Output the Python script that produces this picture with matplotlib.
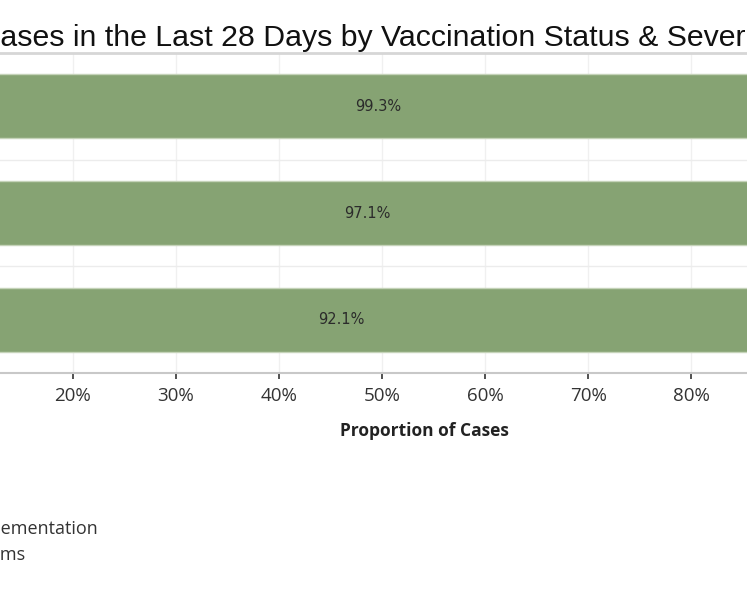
import matplotlib
matplotlib.use('Agg')
import matplotlib.pyplot as plt
import numpy as np

# data
severity = ['All cases', 'Hospitalised', 'Died']
vacc_pct = [99.3, 97.1, 92.1]
xticks = [0, 10, 20, 30, 40, 50, 60, 70, 80, 90, 100]
legend_items = ['Pre-booster implementation', 'Symptoms']

title_prefix = 'COVID-19 C'
title = 'COVID-19 Cases in the Last 28 Days by Vaccination Status & Severity'

W, H = 747, 598
fig = plt.figure(figsize=(W / 100, H / 100), dpi=100)
fig.patch.set_facecolor('white')

# axes run past the figure edges (the reference is a crop)
x0, x1 = -133.6, 897.4
y_top, y_bot = 53, 373
ax = fig.add_axes([x0 / W, 1 - y_bot / H, (x1 - x0) / W, (y_bot - y_top) / H])

ypos = np.arange(len(severity))
ax.barh(ypos, vacc_pct, height=0.6, color='#86a373', edgecolor='#c5d3b9',
        linewidth=1.0, zorder=2)
for y, v in zip(ypos, vacc_pct):
    ax.text(v / 2, y, '%.1f%%' % v, ha='center', va='center', fontsize=10.5,
            color='#2b2b2b', family='DejaVu Sans', zorder=3)

ax.set_xlim(0, 100)
ax.set_ylim(len(severity) - 0.5, -0.5)
ax.set_xticks(xticks)
ax.set_xticklabels(['%d%%' % t for t in xticks], fontsize=13.5, color='#333333',
                   family='Open Sans')
ax.set_yticks(ypos)
ax.set_yticklabels(severity)
ax.tick_params(axis='x', length=4, width=1.2, color='#333333', pad=6)
ax.tick_params(axis='y', length=0)

# light grid
for t in xticks:
    ax.axvline(t, color='#f0f0f0', lw=1, zorder=0)
for b in ypos[:-1] + 0.5:
    ax.axhline(b, color='#ececec', lw=1, zorder=0)

for s in ['left', 'right']:
    ax.spines[s].set_visible(False)
ax.spines['top'].set_color('#d6d6d6')
ax.spines['top'].set_linewidth(2)
ax.spines['bottom'].set_color('#c8c8c8')
ax.spines['bottom'].set_linewidth(1.5)

ax.set_xlabel('Proportion of Cases', fontsize=12.5, fontweight='bold',
              color='#222222', family='Open Sans')
ax.xaxis.set_label_coords((424 - x0) / (x1 - x0), -(436 - y_bot) / (y_bot - y_top))
ax.xaxis.label.set_va('baseline')

# title, cut off at both sides like the reference
tsize = 21.8
fig.canvas.draw()
r = fig.canvas.get_renderer()
tmp = fig.text(0, 0, title_prefix, fontsize=tsize, family='Liberation Sans')
w = tmp.get_window_extent(r).width
tmp.remove()
fig.text(-w / W, 1 - 45.7 / H, title, fontsize=tsize, family='Liberation Sans',
         color='#111111', ha='left', va='baseline')

# legend text, also cut at the left
fig.text(97.7 / W, 1 - 534 / H, legend_items[0], fontsize=13, color='#333333',
         family='Open Sans', ha='right', va='baseline')
fig.text(25 / W, 1 - 560 / H, legend_items[1], fontsize=13, color='#333333',
         family='Open Sans', ha='right', va='baseline')

fig.savefig('out.png', dpi=100)
